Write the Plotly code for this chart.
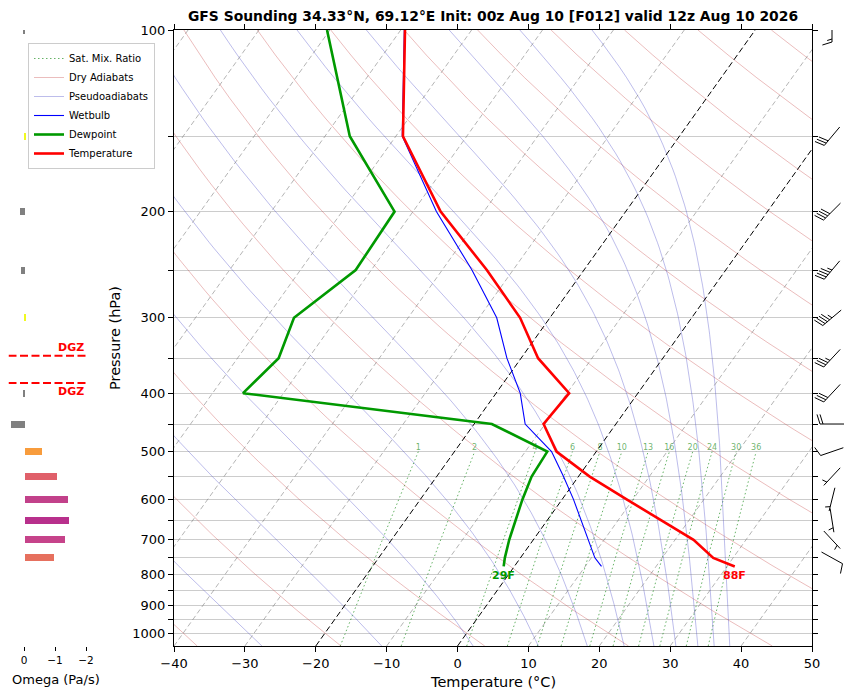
import numpy as np
import plotly.graph_objects as go

# sounding levels (hPa) and profiles (deg C)
pres = [100, 150, 200, 250, 300, 350, 400, 450, 500, 550, 600, 650, 700, 750, 775]
temp = [-69.4, -59.0, -46.1, -33.7, -24.2, -17.6, -9.7, -10.2, -5.6, 1.6, 9.1, 16.2, 22.6, 27.2, 31.1]
dewp = [-80.4, -66.5, -52.6, -52.2, -56.1, -54.2, -55.7, -17.5, -6.9, -6.6, -5.6, -4.5, -3.4, -2.2, -1.5]
wetb = [-69.5, -59.1, -46.7, -35.8, -27.5, -22.0, -16.6, -12.8, -6.3, -2.1, 1.6, 4.8, 7.8, 10.5, 12.3]

# winds (direction deg, speed kt)
wind_p = [100, 150, 200, 250, 300, 350, 400, 450, 500, 550, 600, 650, 700, 750]
wind_dir = [180, 220, 225, 220, 230, 223, 223, 270, 251, 223, 194, 171, 137, 119]
wind_kt = [15, 30, 40, 45, 45, 35, 30, 20, 10, 5, 5, 5, 5, 10]

# omega (Pa/s)
omega_p = [100, 150, 200, 250, 300, 350, 400, 450, 500, 550, 600, 650, 700, 750]
omega = [0.06, -0.02, 0.13, 0.10, -0.02, 0.0, 0.03, 0.45, -0.58, -1.06, -1.39, -1.45, -1.32, -0.94]
omega_colors = ['#808080', '#f0f921', '#808080', '#808080', '#f0f921', '#808080', '#808080',
                '#808080', '#f89c3c', '#e0606a', '#c2418a', '#b8308c', '#c6438a', '#e6705e']

# background line families
dry_theta = list(range(-40, 261, 20))          # potential temp at 1000 hPa, deg C
moist_t0 = [-27.6, -10.7, 2.2, 11.4, 18.3, 23.5, 27.7, 30.8, 33.9, 36.2, 38.4]  # at 1050 hPa
mix_ratios = [1, 2, 4, 6, 8, 10, 13, 16, 20, 24, 30, 36]  # g/kg
isotherms = list(range(-110, 51, 10))

title = 'GFS Sounding 34.33°N, 69.12°E Init: 00z Aug 10 [F012] valid 12z Aug 10 2026'

# geometry
W, H = 852, 694
X0, X1 = 174, 812
MT, MB = 30, 48
P_BOT, P_TOP = 1050.0, 100.0
SKEW = 60.7
PX_DEC = (H - MT - MB) / np.log10(P_BOT / P_TOP)
FONT = 'DejaVu Sans'


def skew_x(t, p):
    return np.asarray(t, float) + SKEW * np.log10(P_BOT / np.asarray(p, float))


def join(xs_list, ys_list):
    xs, ys = [], []
    for a, b in zip(xs_list, ys_list):
        xs += list(a) + [None]
        ys += list(b) + [None]
    return xs, ys


def moist_profile(t0, p):
    Rd, Cp, Lv, eps = 287.04, 1005.7, 2.501e6, 0.622

    def dtdp(T, pp):
        es = 6.112 * np.exp(17.67 * (T - 273.15) / (T - 29.65))
        rs = eps * es / (pp - es)
        return (Rd * T + Lv * rs) / pp / (Cp + Lv * Lv * rs * eps / (Rd * T * T))

    T = np.asarray(t0, float) + 273.15
    out = [T.copy()]
    for i in range(1, len(p)):
        h = p[i] - p[i - 1]
        k1 = dtdp(T, p[i - 1])
        k2 = dtdp(T + 0.5 * h * k1, p[i - 1] + 0.5 * h)
        k3 = dtdp(T + 0.5 * h * k2, p[i - 1] + 0.5 * h)
        k4 = dtdp(T + h * k3, p[i])
        T = T + h / 6 * (k1 + 2 * k2 + 2 * k3 + k4)
        out.append(T.copy())
    return np.array(out).T - 273.15


fig = go.Figure()

# saturation mixing ratio lines
p_mr = np.linspace(P_BOT, 500, 40)
mr_x, mr_y, lab_x = [], [], []
for w in mix_ratios:
    e = p_mr * w / (622.0 + w)
    lg = np.log(e / 6.112)
    t = 243.5 * lg / (17.67 - lg)
    mr_x.append(skew_x(t, p_mr))
    mr_y.append(p_mr)
    lab_x.append(skew_x(t[-1], 500.0))
xs, ys = join(mr_x, mr_y)
fig.add_trace(go.Scatter(x=xs, y=ys, mode='lines', name='Sat. Mix. Ratio',
                         line=dict(color='rgba(0,128,0,0.6)', width=1, dash='1.5px,2.5px')))
fig.add_trace(go.Scatter(x=lab_x, y=[500] * len(mix_ratios), mode='text',
                         text=[f'{w:g}' for w in mix_ratios], textposition='top center',
                         textfont=dict(size=8, color='rgba(0,128,0,0.6)', family=FONT),
                         showlegend=False, hoverinfo='skip'))

# dry adiabats
p_line = np.linspace(P_BOT, P_TOP, 96)
dx_, dy_ = [], []
for th in dry_theta:
    t = (th + 273.15) * (p_line / 1000.0) ** 0.2857 - 273.15
    dx_.append(skew_x(t, p_line))
    dy_.append(p_line)
xs, ys = join(dx_, dy_)
fig.add_trace(go.Scatter(x=xs, y=ys, mode='lines', name='Dry Adiabats',
                         line=dict(color='rgba(200,70,70,0.45)', width=0.8)))

# pseudoadiabats
p_moist = np.arange(P_BOT, P_TOP - 1, -5.0)
mt = moist_profile(moist_t0, p_moist)
xs, ys = join([skew_x(row, p_moist) for row in mt], [p_moist] * len(mt))
fig.add_trace(go.Scatter(x=xs, y=ys, mode='lines', name='Pseudoadiabats',
                         line=dict(color='rgba(70,70,200,0.45)', width=0.8)))

# isotherms
for t in isotherms:
    dark = t in (0, -20)
    fig.add_trace(go.Scatter(x=skew_x([t, t], [P_BOT, P_TOP]), y=[P_BOT, P_TOP], mode='lines',
                             line=dict(color='black' if dark else 'rgba(120,120,120,0.7)',
                                       width=1 if dark else 0.8,
                                       dash='6px,3px' if dark else '5px,3px'),
                             showlegend=False, hoverinfo='skip'))

# profiles
fig.add_trace(go.Scatter(x=skew_x(wetb, pres), y=pres, mode='lines', name='Wetbulb',
                         line=dict(color='#0000ff', width=1.1)))
fig.add_trace(go.Scatter(x=skew_x(dewp, pres), y=pres, mode='lines', name='Dewpoint',
                         line=dict(color='#009900', width=2.6)))
fig.add_trace(go.Scatter(x=skew_x(temp, pres), y=pres, mode='lines', name='Temperature',
                         line=dict(color='#ff0000', width=2.6)))

# surface labels in F
for vals, col in ((temp, '#ff0000'), (dewp, '#009900')):
    fig.add_annotation(x=float(skew_x(vals[-1], pres[-1])), y=np.log10(pres[-1]), xref='x', yref='y',
                       text=f'<b>{round(vals[-1] * 9 / 5 + 32)}F</b>', showarrow=False,
                       xanchor='center', yanchor='top', yshift=-1,
                       font=dict(size=11, color=col, family=FONT))

# omega bars
fig.add_trace(go.Bar(x=omega, y=np.log10(omega_p), orientation='h', width=7 / PX_DEC,
                     marker=dict(color=omega_colors, line=dict(width=0)),
                     xaxis='x2', yaxis='y2', showlegend=False))


# dendritic growth zone from the temperature profile
def level_of(tval):
    lp = np.log10(pres)
    for i in range(len(pres) - 1, 0, -1):
        t1, t2 = temp[i], temp[i - 1]
        if (t1 - tval) * (t2 - tval) <= 0 and t1 != t2:
            f = (tval - t1) / (t2 - t1)
            return lp[i] + f * (lp[i - 1] - lp[i])
    return None


dgz = [level_of(-18.0), level_of(-12.0)]
for k, lv in enumerate(dgz):
    fig.add_trace(go.Scatter(x=[0.5, -2.0], y=[lv, lv], mode='lines', xaxis='x2', yaxis='y2',
                             line=dict(color='red', width=2, dash='8px,3.5px'),
                             showlegend=False, hoverinfo='skip'))
    fig.add_annotation(x=-2.0, y=lv, xref='x2', yref='y2', text='<b>DGZ</b>', showarrow=False,
                       xanchor='right', yanchor='bottom' if k == 0 else 'top',
                       font=dict(size=11, color='red', family=FONT))


# wind barbs
def barb_segments(wdir, spd, L=24.0):
    th = np.deg2rad(wdir)
    d = np.array([np.sin(th), -np.cos(th)])
    n = np.array([-d[1], d[0]])
    segs = [(-d * L / 2, d * L / 2)]
    s = int(round(spd / 5.0)) * 5
    nflag, rem = divmod(s, 50)
    nfull, rem = divmod(rem, 10)
    spacing, fh, fw = 0.125 * L, 0.4 * L, 0.25 * L
    off = L / 2
    for _ in range(nflag):
        b = d * off
        segs.append((b, b + n * fh + d * fw / 2))
        segs.append((b + n * fh + d * fw / 2, b - d * fw))
        off -= fw + spacing
    for _ in range(nfull):
        b = d * off
        segs.append((b, b + n * fh + d * fw / 2))
        off -= spacing
    if rem >= 5:
        if nfull == 0 and nflag == 0:
            off -= 1.5 * spacing
        b = d * off
        segs.append((b, b + n * fh / 2 + d * fw / 4))
    return segs


bx, by = [], []
for p, wd, ws in zip(wind_p, wind_dir, wind_kt):
    for a, b in barb_segments(wd, ws):
        bx += [20 + a[0], 20 + b[0], None]
        by += [np.log10(p) + a[1] / PX_DEC, np.log10(p) + b[1] / PX_DEC, None]
fig.add_trace(go.Scatter(x=bx, y=by, mode='lines', xaxis='x3', yaxis='y3',
                         line=dict(color='black', width=1), showlegend=False, hoverinfo='skip'))

yr = [np.log10(P_BOT), np.log10(P_TOP)]
ptick = list(range(100, 1001, 50))
fig.update_layout(
    width=W, height=H, margin=dict(l=0, r=0, t=MT, b=MB, pad=0), autosize=False,
    paper_bgcolor='white', plot_bgcolor='white',
    font=dict(family=FONT, color='black'),
    title=dict(text=f'<b>{title}</b>', x=(X0 + X1) / 2 / W, xref='paper', xanchor='center',
               y=1 - 16 / H, yref='container', yanchor='middle', font=dict(size=13.9)),
    xaxis=dict(domain=[X0 / W, X1 / W], range=[-40, 50], tickvals=list(range(-40, 51, 10)),
               ticks='outside', ticklen=5, tickcolor='black', showline=True, linecolor='black',
               linewidth=1, mirror='ticks', showgrid=False, zeroline=False,
               tickfont=dict(size=13), anchor='y', automargin=False),
    yaxis=dict(type='log', range=yr, domain=[0, 1], anchor='x', tickvals=ptick,
               ticktext=[str(v) if v % 100 == 0 else '' for v in ptick],
               ticks='outside', ticklen=5, tickcolor='black', showline=True, linecolor='black',
               linewidth=1, mirror='ticks', showgrid=True, gridcolor='#cccccc', gridwidth=1,
               zeroline=False, tickfont=dict(size=13), automargin=False),
    xaxis2=dict(domain=[8.5 / W, 86 / W], range=[0.5, -2.0], anchor='y2', tickvals=[0, -1, -2],
                ticks='outside', ticklen=4, tickcolor='black', showline=False, showgrid=False,
                zeroline=False, tickfont=dict(size=10.5), automargin=False),
    yaxis2=dict(domain=[0, 1], range=yr, anchor='x2', visible=False, automargin=False),
    xaxis3=dict(domain=[X1 / W, 1], range=[0, 40], anchor='y3', visible=False, automargin=False),
    yaxis3=dict(domain=[0, 1], range=yr, anchor='x3', visible=False, automargin=False),
    legend=dict(x=28 / W, y=(H - MB - 43) / (H - MT - MB), xanchor='left', yanchor='top',
                bgcolor='rgba(255,255,255,0.85)', bordercolor='#cccccc', borderwidth=1,
                font=dict(size=10), tracegroupgap=0),
    bargap=0,
)
fig.add_annotation(text='Temperature (°C)', x=(X0 + X1) / 2 / W, y=(H - MB - 682) / (H - MT - MB),
                   xref='paper', yref='paper', showarrow=False, font=dict(size=14.5),
                   xanchor='center', yanchor='middle')
fig.add_annotation(text='Pressure (hPa)', x=115 / W, y=0.5, xref='paper', yref='paper',
                   showarrow=False, textangle=-90, font=dict(size=14.5),
                   xanchor='center', yanchor='middle')
fig.add_annotation(text='Omega (Pa/s)', x=56 / W, y=(H - MB - 679) / (H - MT - MB),
                   xref='paper', yref='paper', showarrow=False, font=dict(size=13),
                   xanchor='center', yanchor='middle')

fig.write_html("out.html", config={'displayModeBar': False},
               post_script="document.body.style.margin='0px';")
